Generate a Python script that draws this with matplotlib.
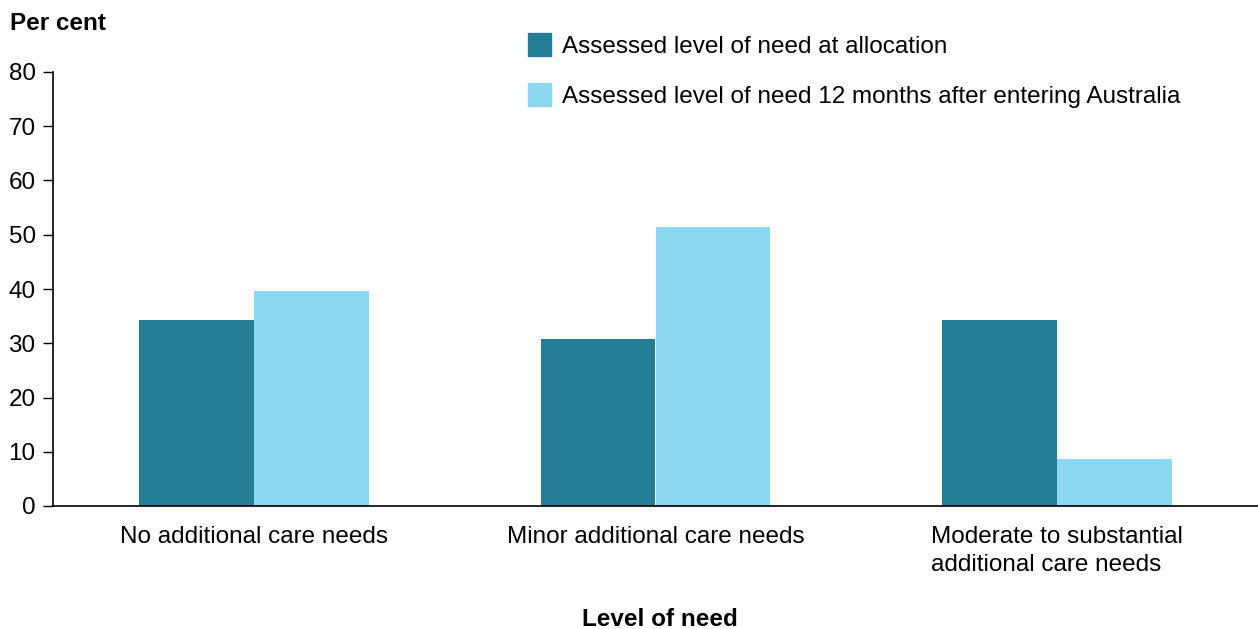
import matplotlib.pyplot as plt
from matplotlib.patches import Patch
import numpy as np

plt.rcParams['font.family'] = ['Liberation Sans', 'DejaVu Sans']

categories = ["No additional care needs",
              "Minor additional care needs",
              "Moderate to substantial\nadditional care needs"]
at_allocation = [34.3, 30.8, 34.3]
after_12_months = [39.6, 51.5, 8.7]
series_names = ["Assessed level of need at allocation",
                "Assessed level of need 12 months after entering Australia"]

dark = "#237E96"
light = "#8DD7F0"
fs = 17.5

fig = plt.figure(figsize=(12.58, 6.29), dpi=100)
ax = fig.add_axes([53/1258, (629-506)/629, 1 - 53/1258, (506-72)/629])

x = np.arange(len(categories))
w = 0.286
ax.bar(x - w/2, at_allocation, width=w, color=dark)
ax.bar(x + w/2, after_12_months, width=w, color=light)

ax.set_xlim(-0.5, 2.5)
ax.set_ylim(0, 80)
ax.set_yticks(range(0, 81, 10))
ax.set_xticks(x)
ax.set_xticklabels(categories, multialignment='left', linespacing=1.35)
ax.tick_params(axis='y', labelsize=fs, length=7, width=1, pad=5.5)
ax.tick_params(axis='x', labelsize=fs, length=0, pad=14.5)
for s in ['top', 'right']:
    ax.spines[s].set_visible(False)
ax.spines['left'].set_linewidth(1.2)
ax.spines['bottom'].set_linewidth(1.2)

fig.text(10/1258, 1 - 23.5/629, "Per cent", fontsize=fs, fontweight='bold', va='center')
fig.text(660/1258, 1 - 626/629, "Level of need", fontsize=fs, fontweight='bold',
         ha='center', va='baseline')

handles = [Patch(color=dark), Patch(color=light)]
fig.legend(handles, series_names, loc='upper left',
           bbox_to_anchor=(528/1258, 1 - 33/629), frameon=False, borderpad=0,
           borderaxespad=0, fontsize=fs, handlelength=0.95, handleheight=1.05,
           handletextpad=0.45, labelspacing=1.05)

fig.savefig("out.png", dpi=100)
